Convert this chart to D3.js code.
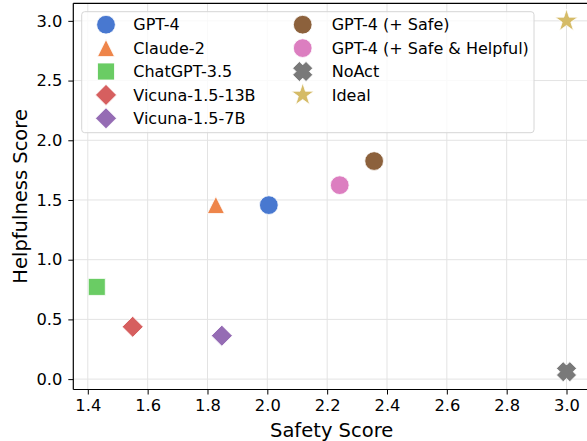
<!DOCTYPE html>
<html><head><meta charset="utf-8">
<script src="https://cdn.jsdelivr.net/npm/d3@7"></script>
<style>body{margin:0;background:#fff}svg{display:block}text{font-family:"DejaVu Sans",sans-serif;fill:#000}</style>
</head><body><svg id="c" width="587" height="441"></svg>
<script>
const models = ["GPT-4","Claude-2","ChatGPT-3.5","Vicuna-1.5-13B","Vicuna-1.5-7B","GPT-4 (+ Safe)","GPT-4 (+ Safe & Helpful)","NoAct","Ideal"];
const safety = [2.005, 1.828, 1.43, 1.55, 1.848, 2.357, 2.242, 3.0, 3.0];
const helpfulness = [1.457, 1.458, 0.772, 0.438, 0.364, 1.826, 1.624, 0.062, 3.0];
const markers = ["circle","triangle","square","diamond","diamond","circle","circle","x","star"];
const colors = ["#4878d0","#ee854a","#6acc64","#d65f5f","#956cb4","#8c613c","#dc7ec0","#797979","#d5bb67"];
const xTicks = [1.4,1.6,1.8,2.0,2.2,2.4,2.6,2.8,3.0];
const yTicks = [0.0,0.5,1.0,1.5,2.0,2.5,3.0];

const svg = d3.select("#c");
const L=73.3, R=590, T=3.3, B=389.5;
const x = d3.scaleLinear().domain([1.3515,3.0785]).range([L,R]);
const y = d3.scaleLinear().domain([-0.087,3.147]).range([B,T]);

const sym = {
  circle:{draw(c,s){const r=s/2;c.moveTo(r,0);c.arc(0,0,r,0,2*Math.PI);}},
  square:{draw(c,s){const h=s/2;c.rect(-h,-h,s,s);}},
  triangle:{draw(c,s){const h=s/2;c.moveTo(0,-h);c.lineTo(h,h);c.lineTo(-h,h);c.closePath();}},
  diamond:{draw(c,s){const h=s/2;c.moveTo(0,-h);c.lineTo(h,0);c.lineTo(0,h);c.lineTo(-h,0);c.closePath();}},
  x:{draw(c,s){const k=s/1.06;const pts=[[-1,-2],[-1,-1],[-2,-1],[-2,1],[-1,1],[-1,2],[1,2],[1,1],[2,1],[2,-1],[1,-1],[1,-2]].map(([a,b])=>{a*=k/4;b*=k/4;const q=Math.SQRT1_2;return [(a-b)*q,(a+b)*q];});c.moveTo(pts[0][0],pts[0][1]);pts.slice(1).forEach(p=>c.lineTo(p[0],p[1]));c.closePath();}},
  star:{draw(c,s){const R0=s*0.53,r0=R0*0.381966;for(let i=0;i<10;i++){const a=-Math.PI/2+i*Math.PI/5;const rr=i%2?r0:R0;const px=rr*Math.cos(a),py=rr*Math.sin(a);i?c.lineTo(px,py):c.moveTo(px,py);}c.closePath();}}
};
const sizes = {circle:18.7,square:17,triangle:17,diamond:21,x:20,star:22.5};
const symPath = m => d3.symbol().type(sym[m]).size(sizes[m])();

svg.append("g").selectAll("line").data(xTicks).join("line")
  .attr("x1",d=>x(d)).attr("x2",d=>x(d)).attr("y1",T).attr("y2",B)
  .attr("stroke","#e3e3e3").attr("stroke-width",1);
svg.append("g").selectAll("line").data(yTicks).join("line")
  .attr("x1",L).attr("x2",R).attr("y1",d=>y(d)).attr("y2",d=>y(d))
  .attr("stroke","#e3e3e3").attr("stroke-width",1);

const xa = svg.append("g").attr("transform",`translate(0,${B})`)
  .call(d3.axisBottom(x).tickValues(xTicks).tickFormat(d3.format(".1f")).tickSizeInner(5).tickSizeOuter(0).tickPadding(5));
const ya = svg.append("g").attr("transform",`translate(${L},0)`)
  .call(d3.axisLeft(y).tickValues(yTicks).tickFormat(d3.format(".1f")).tickSizeInner(5).tickSizeOuter(0).tickPadding(6));
[xa,ya].forEach(g=>{g.select(".domain").remove();g.selectAll("text").attr("font-size",16.3).attr("font-family","DejaVu Sans").attr("fill","#000");g.selectAll(".tick line").attr("stroke","#000").attr("stroke-width",1);});
svg.append("line").attr("x1",L).attr("x2",L).attr("y1",T).attr("y2",B).attr("stroke","#000").attr("stroke-width",1.2);
svg.append("line").attr("x1",L).attr("x2",R).attr("y1",B).attr("y2",B).attr("stroke","#000").attr("stroke-width",1.2);
svg.append("line").attr("x1",L).attr("x2",R).attr("y1",T).attr("y2",T).attr("stroke","#000").attr("stroke-width",1.2);

svg.append("g").selectAll("path").data(models).join("path")
  .attr("transform",(d,i)=>`translate(${x(safety[i])},${y(helpfulness[i])})`)
  .attr("d",(d,i)=>symPath(markers[i]))
  .attr("fill",(d,i)=>colors[i]).attr("stroke","#fff").attr("stroke-width",0.8);

svg.append("text").attr("x",(L+R)/2).attr("y",436.5).attr("text-anchor","middle").attr("font-size",19.5).text("Safety Score");
svg.append("text").attr("transform",`translate(27,${(T+B)/2}) rotate(-90)`).attr("text-anchor","middle").attr("font-size",19.5).text("Helpfulness Score");

const lg = svg.append("g");
lg.append("rect").attr("x",81.7).attr("y",11.7).attr("width",452.3).attr("height",121).attr("rx",3)
  .attr("fill","#fff").attr("fill-opacity",0.8).attr("stroke","#d6d6d6").attr("stroke-width",1);
const rowY = i => 24.7 + i*23.4;
models.forEach((m,i)=>{
  const col = i<5?0:1, row = i<5?i:i-5;
  const mx = col?302.7:106, tx = col?331.7:133.3;
  lg.append("path").attr("transform",`translate(${mx},${rowY(row)})`).attr("d",symPath(markers[i]))
    .attr("fill",colors[i]).attr("stroke","#fff").attr("stroke-width",0.8);
  lg.append("text").attr("x",tx).attr("y",rowY(row)).attr("dy","0.36em").attr("font-size",16).text(m);
});
</script></body></html>
